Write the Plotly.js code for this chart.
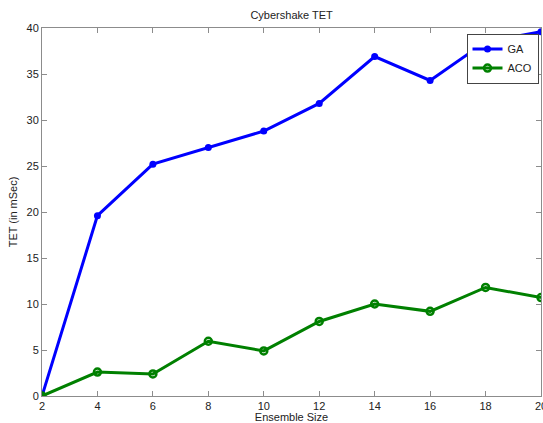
<!DOCTYPE html>
<html>
<head>
<meta charset="utf-8">
<script src="https://cdn.plot.ly/plotly-3.0.1.min.js"></script>
<style>html,body{margin:0;padding:0;background:#fff;}#chart{width:543px;height:423px;}</style>
</head>
<body>
<div id="chart"></div>
<script>
const ensembleSize = [2, 4, 6, 8, 10, 12, 14, 16, 18, 20];
const gaTET = [0, 19.6, 25.2, 27.0, 28.8, 31.8, 36.9, 34.3, 38.5, 39.6];
const acoTET = [0, 2.6, 2.4, 5.95, 4.9, 8.1, 10.0, 9.2, 11.8, 10.7];
const xTicks = [2, 4, 6, 8, 10, 12, 14, 16, 18, 20];
const yTicks = [0, 5, 10, 15, 20, 25, 30, 35, 40];

const traces = [
  {x: ensembleSize, y: gaTET, name: 'GA', type: 'scatter', mode: 'lines+markers',
   line: {color: '#0000ff', width: 3}, marker: {color: '#0000ff', size: 7, symbol: 'circle'}},
  {x: ensembleSize, y: acoTET, name: 'ACO', type: 'scatter', mode: 'lines+markers',
   line: {color: '#008000', width: 3}, marker: {color: '#008000', size: 7, symbol: 'circle-open', line: {color: '#008000', width: 2.5}}}
];

const axisCommon = {
  showgrid: false, zeroline: false, showline: true, linecolor: '#8c8c8c', linewidth: 1,
  mirror: 'ticks', ticks: 'inside', ticklen: 5, tickcolor: '#8c8c8c',
  ticklabeloverflow: 'allow',
  tickfont: {family: 'Liberation Sans, Arial, sans-serif', size: 11, color: '#222'}
};

const layout = {
  width: 543, height: 423,
  margin: {l: 42, r: 2, t: 28, b: 27},
  paper_bgcolor: '#fff', plot_bgcolor: '#fff',
  showlegend: true,
  title: {text: 'Cybershake TET', x: 0.537, xanchor: 'center', y: 0.965, yanchor: 'middle',
          font: {family: 'Liberation Sans, Arial, sans-serif', size: 11, color: '#222'}},
  xaxis: Object.assign({}, axisCommon, {range: [2, 20], tickvals: xTicks, ticktext: xTicks.map(String),
    title: {text: 'Ensemble Size', standoff: 2, font: {family: 'Liberation Sans, Arial, sans-serif', size: 11, color: '#222'}}}),
  yaxis: Object.assign({}, axisCommon, {range: [0, 40], tickvals: yTicks, ticktext: yTicks.map(String),
    title: {text: 'TET (in mSec)', standoff: 6, font: {family: 'Liberation Sans, Arial, sans-serif', size: 11, color: '#222'}}}),
  legend: {x: 0.995, xanchor: 'right', y: 0.985, yanchor: 'top', bgcolor: '#fff', bordercolor: '#444', borderwidth: 1,
    font: {family: 'Liberation Sans, Arial, sans-serif', size: 11, color: '#222'}, itemwidth: 30, tracegroupgap: 0}
};

Plotly.newPlot('chart', traces, layout, {staticPlot: true, displayModeBar: false});
</script>
</body>
</html>
